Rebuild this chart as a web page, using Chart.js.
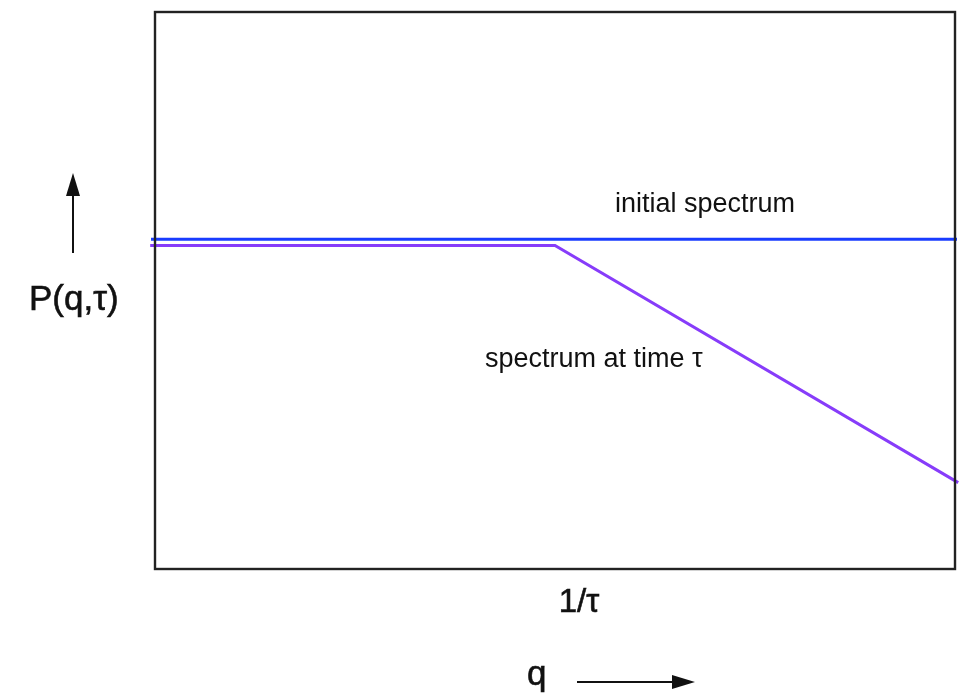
<!DOCTYPE html>
<html lang="en">
<head>
    <meta charset="UTF-8">
    <title>Spectrum at time tau</title>
    <script src="https://cdn.jsdelivr.net/npm/chart.js"></script>
    <style>
        html, body { margin: 0; padding: 0; background: #fff; }
        #wrap { width: 963px; height: 695px; }
    </style>
</head>
<body>
    <div id="wrap"><canvas id="spectrumChart"></canvas></div>

    <script>
        // q in units of 1/tau, P in arbitrary units
        const initialQ = [-0.01, 2.005];
        const initialP = [0.592, 0.592];
        const laterQ = [-0.012, 1.0, 2.008];
        const laterP = [0.581, 0.581, 0.155];
        const kneeQ = 1.0;

        const initialPoints = initialQ.map((q, i) => ({ x: q, y: initialP[i] }));
        const laterPoints = laterQ.map((q, i) => ({ x: q, y: laterP[i] }));

        const FONT = '"Liberation Sans", Arial, sans-serif';

        // frame, axis arrows and labels
        const decorations = {
            id: 'decorations',
            afterDraw(chart) {
                const ctx = chart.ctx;
                const a = chart.chartArea;
                const xs = chart.scales.x;
                ctx.save();

                ctx.strokeStyle = '#222';
                ctx.lineWidth = 2.4;
                ctx.strokeRect(a.left, a.top, a.right - a.left, a.bottom - a.top);

                ctx.fillStyle = '#111';
                ctx.strokeStyle = '#111';
                ctx.textBaseline = 'alphabetic';
                ctx.textAlign = 'left';
                ctx.font = '27px ' + FONT;
                ctx.fillText('initial spectrum', 615, 212);
                ctx.fillText('spectrum at time \u03c4', 485, 367);

                ctx.lineWidth = 0.6;
                ctx.font = '35px ' + FONT;
                ctx.fillText('P(q,\u03c4)', 29, 310);
                ctx.strokeText('P(q,\u03c4)', 29, 310);

                ctx.font = '33px ' + FONT;
                ctx.textAlign = 'center';
                const kx = xs.getPixelForValue(kneeQ) + 24;
                ctx.fillText('1/\u03c4', kx, 612);
                ctx.strokeText('1/\u03c4', kx, 612);

                ctx.font = '35px ' + FONT;
                ctx.textAlign = 'left';
                ctx.fillText('q', 527, 685);
                ctx.strokeText('q', 527, 685);

                // q arrow
                ctx.lineWidth = 2;
                ctx.beginPath();
                ctx.moveTo(577, 682);
                ctx.lineTo(680, 682);
                ctx.stroke();
                ctx.beginPath();
                ctx.moveTo(695, 682);
                ctx.lineTo(672, 675);
                ctx.lineTo(672, 689);
                ctx.closePath();
                ctx.fill();

                // P arrow
                ctx.beginPath();
                ctx.moveTo(73, 253);
                ctx.lineTo(73, 188);
                ctx.stroke();
                ctx.beginPath();
                ctx.moveTo(73, 173);
                ctx.lineTo(66, 196);
                ctx.lineTo(80, 196);
                ctx.closePath();
                ctx.fill();

                ctx.restore();
            }
        };

        new Chart(document.getElementById('spectrumChart'), {
            type: 'line',
            data: {
                datasets: [
                    {
                        label: 'initial spectrum',
                        data: initialPoints,
                        borderColor: 'rgb(25, 60, 255)',
                        borderWidth: 3,
                        pointRadius: 0,
                        tension: 0,
                        clip: false
                    },
                    {
                        label: 'spectrum at time tau',
                        data: laterPoints,
                        borderColor: 'rgb(135, 60, 250)',
                        borderWidth: 3,
                        pointRadius: 0,
                        tension: 0,
                        clip: false
                    }
                ]
            },
            options: {
                responsive: true,
                maintainAspectRatio: false,
                animation: false,
                layout: { padding: { left: 155, right: 8, top: 12, bottom: 126 } },
                plugins: {
                    legend: { display: false },
                    tooltip: { enabled: false }
                },
                scales: {
                    x: { type: 'linear', min: 0, max: 2, display: false },
                    y: { type: 'linear', min: 0, max: 1, display: false }
                }
            },
            plugins: [decorations]
        });
    </script>
</body>
</html>
